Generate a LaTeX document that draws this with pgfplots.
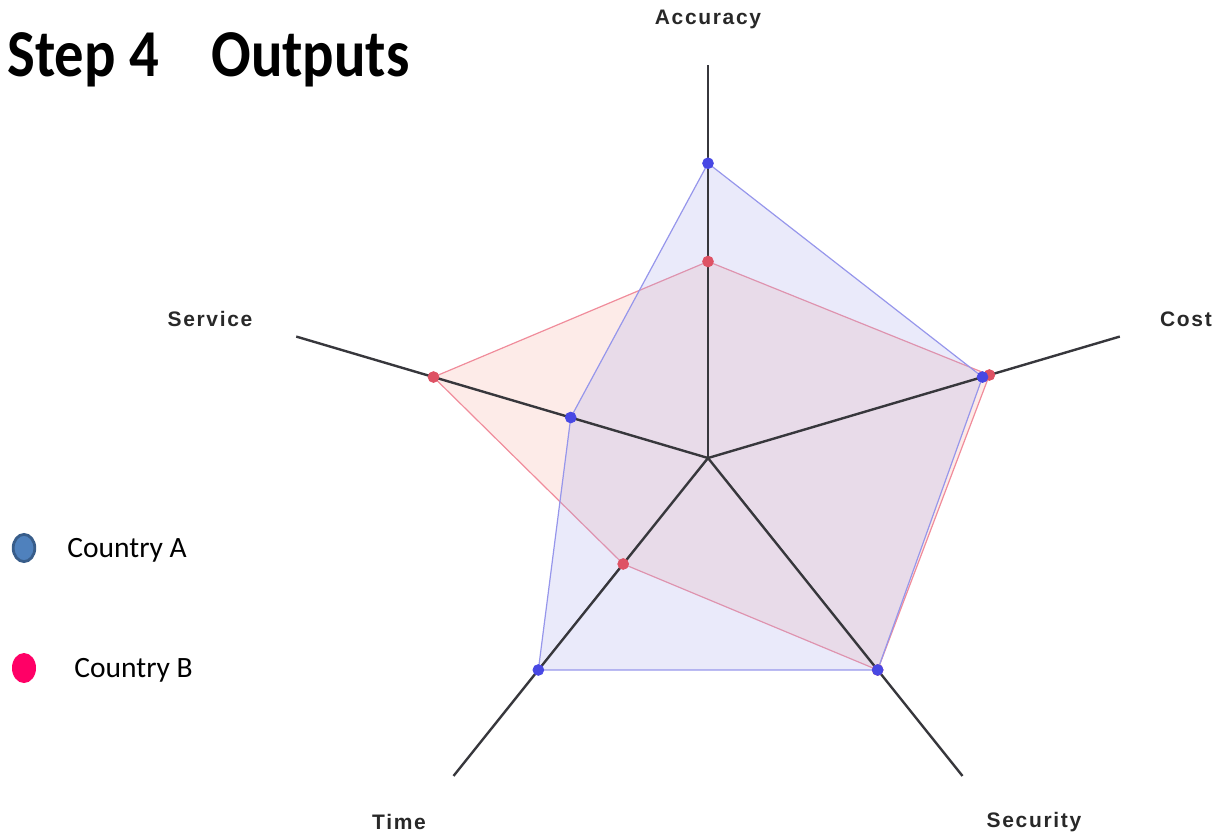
\documentclass[border=0pt]{standalone}
\usepackage{fontspec}
\setmainfont{Carlito}
\newfontfamily\lblfont[LetterSpace=8]{Liberation Sans}
\usepackage{pgfplots}
\pgfplotsset{compat=1.18}

% radar values (axis end = 6), angle in degrees
% Accuracy 90, Cost 18, Security -54, Time -126, Service 162
\pgfplotstableread{
ang r
90  4.5
18  4.0
-54 4.0
-126 4.0
162 2.0
}\countryA
\pgfplotstableread{
ang r
90  3.0
18  4.1
-54 4.0
-126 2.0
162 4.0
}\countryB

\definecolor{spoke}{RGB}{55,55,60}
\definecolor{aFill}{RGB}{171,171,235}
\definecolor{aLine}{RGB}{150,150,235}
\definecolor{aMark}{RGB}{72,72,228}
\definecolor{bFill}{RGB}{245,155,140}
\definecolor{bLine}{RGB}{240,140,155}
\definecolor{bMark}{RGB}{222,82,100}
\definecolor{legA}{RGB}{79,129,189}
\definecolor{legAedge}{RGB}{56,93,138}
\definecolor{legB}{RGB}{255,0,102}
\definecolor{lbl}{RGB}{40,40,40}

\begin{document}
\begin{tikzpicture}
\path[use as bounding box] (0,0) rectangle (610pt,-418pt);

\begin{axis}[
  at={(354pt,-229pt)}, anchor=origin,
  x=36.08pt, y=32.75pt,
  xmin=-6.5, xmax=6.5, ymin=-5.5, ymax=5.5,
  hide axis, clip=false,
  data cs=polar,
]
% areas
\addplot[fill=bFill, fill opacity=0.2, draw=bLine, line width=0.6pt, mark=none]
  table[x=ang, y=r] {\countryB} -- cycle;
\addplot[fill=aFill, fill opacity=0.25, draw=aLine, line width=0.6pt, mark=none]
  table[x=ang, y=r] {\countryA} -- cycle;
% spokes
\addplot[spoke, line width=1.2pt, mark=none] coordinates {(90,0) (90,6)};
\addplot[spoke, line width=1.2pt, mark=none] coordinates {(18,0) (18,6)};
\addplot[spoke, line width=1.2pt, mark=none] coordinates {(-54,0) (-54,6)};
\addplot[spoke, line width=1.2pt, mark=none] coordinates {(-126,0) (-126,6)};
\addplot[spoke, line width=1.2pt, mark=none] coordinates {(162,0) (162,6)};
% markers
\addplot[only marks, mark=*, mark size=2.7pt, color=bMark] table[x=ang, y=r] {\countryB};
\addplot[only marks, mark=*, mark size=2.7pt, color=aMark] table[x=ang, y=r] {\countryA};
\end{axis}

% category labels
\begin{scope}[every node/.style={font=\lblfont\bfseries\fontsize{10.5}{12}\selectfont, text=lbl}]
\node at (354pt,-9.5pt) {Accuracy};
\node at (593pt,-159.5pt) {Cost};
\node at (105pt,-159.5pt) {Service};
\node at (199.5pt,-411pt) {Time};
\node at (517pt,-411pt) {Security};
\end{scope}

% title
\node[anchor=base west, inner sep=0pt, xscale=0.876, font=\bfseries\fontsize{33.5}{36}\selectfont] at (3.5pt,-38pt) {Step 4};
\node[anchor=base west, inner sep=0pt, xscale=0.876, font=\bfseries\fontsize{33.5}{36}\selectfont] at (105.5pt,-38pt) {Outputs};

% legend
\draw[legAedge, fill=legA, line width=1.4pt] (12pt,-274pt) ellipse (5.4pt and 6.8pt);
\fill[legB] (12pt,-334pt) ellipse (6pt and 7.5pt);
\node[anchor=base west, inner sep=0pt, font=\fontsize{14.75}{16}\selectfont] at (33.5pt,-278.5pt) {Country A};
\node[anchor=base west, inner sep=0pt, font=\fontsize{14.75}{16}\selectfont] at (37pt,-338.5pt) {Country B};
\end{tikzpicture}
\end{document}
